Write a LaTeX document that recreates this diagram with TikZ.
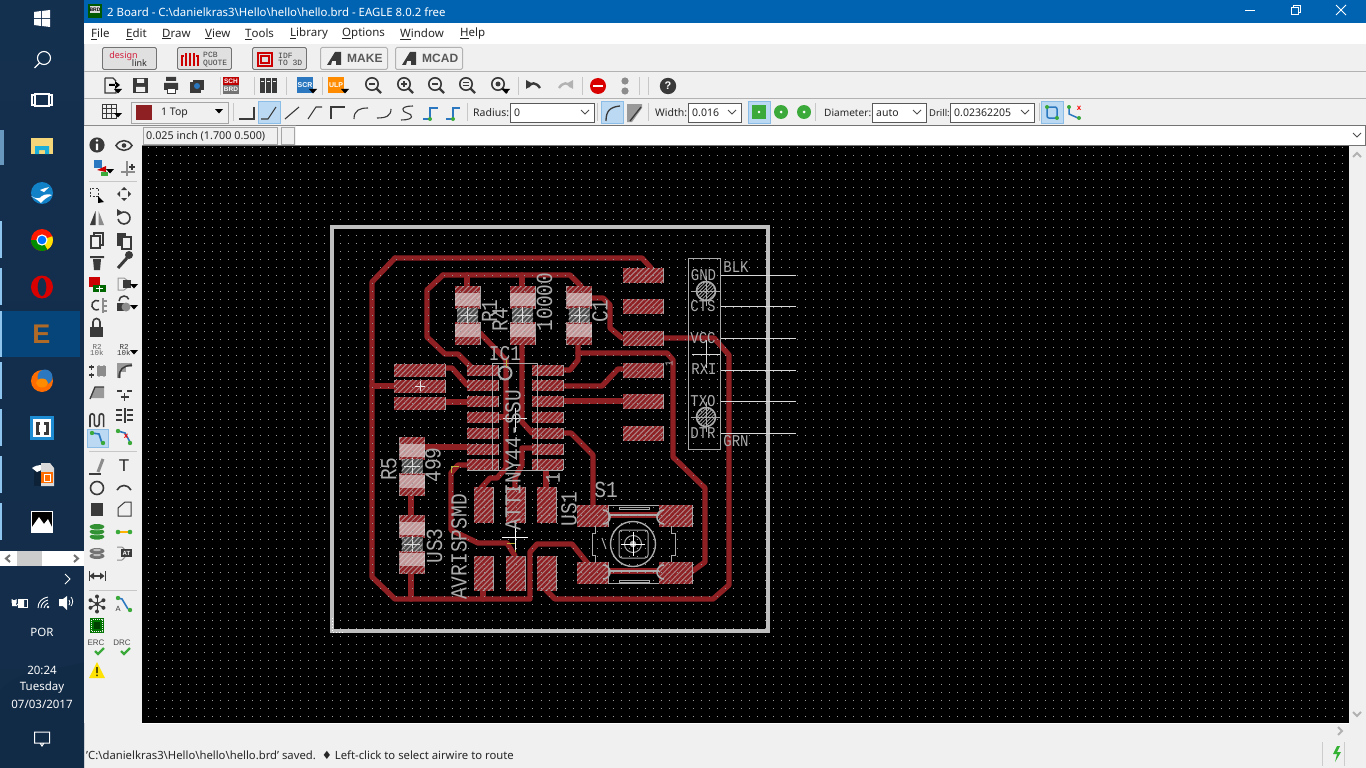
\documentclass[tikz,border=0pt]{standalone}
\usepackage{fontspec}
\setmainfont{Noto Sans}
\newfontfamily\vecf[FakeStretch=0.85]{Liberation Mono}
\newfontfamily\tinyf{Liberation Mono}
\newfontfamily\boldf{Liberation Sans}
\newfontfamily\djv{DejaVu Sans}
\usetikzlibrary{patterns.meta,shadings}
\definecolor{trc}{HTML}{8E2024}
\definecolor{padbg}{HTML}{AD8585}
\definecolor{hatchc}{HTML}{8E2024}
\definecolor{silk}{HTML}{ABABAB}
\definecolor{barbg}{HTML}{F0F0F0}
\definecolor{tb}{HTML}{14304F}
\definecolor{ico}{HTML}{3A3A3A}
\definecolor{selb}{HTML}{BBD9F2}
\definecolor{selbd}{HTML}{8CBDE6}
\definecolor{grn}{HTML}{3BAA3B}
\definecolor{wireb}{HTML}{2B78C0}
\definecolor{winblue}{HTML}{0063B1}
\definecolor{tile}{HTML}{05457A}
\definecolor{ooblue}{HTML}{1282C8}
\definecolor{brblue}{HTML}{1E8CD2}
\definecolor{dsred}{HTML}{D21E3C}
\definecolor{indic}{HTML}{8EC5EE}
\definecolor{folder}{HTML}{F5D77A}
\definecolor{eagle}{HTML}{B06A28}
\tikzset{
 wire/.style={draw=trc,line width=5.4pt,line join=round,line cap=round},
 padst/.style={draw=silk,line width=1pt,fill=padbg,postaction={pattern={Lines[angle=45,distance=3.7pt,line width=2.4pt]},pattern color=hatchc}},
 silkl/.style={draw=silk,line width=1pt},
 vec/.style={font=\vecf\fontsize{23}{26}\selectfont,text=silk,inner sep=0pt},
 vecm/.style={font=\vecf\fontsize{21}{24}\selectfont,text=silk,inner sep=0pt},
 vecs/.style={font=\vecf\fontsize{16.5}{19}\selectfont,text=silk,inner sep=0pt},
 ui/.style={font=\fontsize{11.5}{14}\selectfont,text=black!85,inner sep=0pt,anchor=west},
 uis/.style={font=\fontsize{10.5}{13}\selectfont,text=black!85,inner sep=0pt,anchor=west},
 tray/.style={font=\fontsize{11.5}{14}\selectfont,text=white,inner sep=0pt},
 combo/.style={draw=black!65,fill=white,line width=.8pt},
 btn/.style={draw=black!55,fill=black!12,line width=.9pt,rounded corners=1.5pt},
 btnl/.style={draw=black!30,fill=barbg,line width=1pt,rounded corners=1.5pt},
 sep/.style={draw=black!22,line width=1pt},
 icl/.style={draw=ico,line width=1.4pt},
 sel/.style={fill=selb,draw=selbd,line width=.8pt},
 tiny/.style={font=\boldf\bfseries\fontsize{7}{8}\selectfont,inner sep=0pt},
}
\newcommand{\pad}[4]{\path[padst] (#1,#2) rectangle (#3,#4);}
\newcommand{\chev}[2]{\draw[black!70,line width=1pt] (#1-4,#2-2) -- (#1,#2+2) -- (#1+4,#2-2);}
\newcommand{\dtri}[2]{\fill[black] (#1-4,#2-2) -- (#1+4,#2-2) -- (#1,#2+2.5) -- cycle;}
% resistor-like part: cx, top
\newcommand{\rpart}[2]{%
 \pad{#1-12.5}{#2}{#1+12.5}{#2+22}
 \pad{#1-12.5}{#2+36}{#1+12.5}{#2+58}
 \fill[white!80!gray,opacity=.6] (#1-12.5,#2+7) rectangle (#1+12.5,#2+20);
 \fill[white!80!gray,opacity=.6] (#1-12.5,#2+38) rectangle (#1+12.5,#2+51);
 \path[fill=black!70,postaction={pattern={Lines[angle=45,distance=3.7pt,line width=1.2pt]},pattern color=silk}] (#1-10.5,#2+22) rectangle (#1+10.5,#2+36);
 \draw[black!12,line width=.7pt] (#1-8,#2+29) -- (#1+8,#2+29) (#1,#2+21) -- (#1,#2+37);
}
\begin{document}
\begin{tikzpicture}[x=1pt,y=-1pt]
\useasboundingbox (0,0) rectangle (1366,768);
% ---------- backgrounds
\fill[barbg] (0,0) rectangle (1366,768);
\shade[top color=tb,bottom color=tb!92!black] (0,0) rectangle (84,768);
\fill[black!18!tb,opacity=.35] (0,690) .. controls (20,668) and (50,672) .. (84,662) -- (84,768) -- (0,768) -- cycle;
\fill[black] (142,146) rectangle (1349,723);
\fill[white] (142,723) rectangle (1349,724);
% ---------- title bar + menu
\fill[winblue] (84,0) rectangle (1366,23);
\fill[white] (84,23) rectangle (1366,44);
\draw[black!30,line width=1pt] (84,72) -- (1366,72) (84,98.5) -- (1366,98.5);
\draw[black!45,line width=1pt] (84,125) -- (1366,125);
\fill[white] (296,126) rectangle (1366,145);
\draw[black!55,line width=1pt] (296,125.5) -- (1366,125.5) (142,145.5) -- (1366,145.5);
\draw[black!55,line width=1pt] (1365.5,126) -- (1365.5,145);
\fill[green!35!black] (88,4) rectangle (102,18);
\fill[black!15] (90,6) rectangle (100,13);
\node[font=\boldf\bfseries\fontsize{5}{6}\selectfont,text=black,inner sep=0pt] (brdico) at (95,9.5) {BRD};
\node[font=\fontsize{11.4}{14}\selectfont,text=white,inner sep=0pt,anchor=west] (title) at (107,12) {2 Board - C:\textbackslash danielkras3\textbackslash Hello\textbackslash hello\textbackslash hello.brd - EAGLE 8.0.2 free};
\draw[white,line width=1pt] (1245,10.5) -- (1255,10.5);
\draw[white,line width=1pt] (1291,8) rectangle (1298,15) (1293,8) -- (1293,5.5) -- (1300,5.5) -- (1300,12.5) -- (1298,12.5);
\draw[white,line width=1pt] (1336,5) -- (1346,15) (1346,5) -- (1336,15);
\node[ui] (mFile) at (91,34) {\underline{F}ile};
\node[ui] (mEdit) at (126,34) {\underline{E}dit};
\node[ui] (mDraw) at (162,34) {\underline{D}raw};
\node[ui] (mView) at (205,34) {\underline{V}iew};
\node[ui] (mTools) at (245,34) {\underline{T}ools};
\node[ui] (mLib) at (290,34) {\underline{L}ibrary};
\node[ui] (mOpt) at (342,34) {\underline{O}ptions};
\node[ui] (mWin) at (400,34) {\underline{W}indow};
\node[ui] (mHelp) at (460,34) {\underline{H}elp};
% ---------- button row
\path[btn] (102.5,47.5) rectangle (156.5,69.5);
\node[font=\fontsize{9}{10}\selectfont,text=dsred,inner sep=0pt] (bdesign) at (123.5,56) {design};
\node[font=\fontsize{9}{10}\selectfont,text=black!85,inner sep=0pt] (blink) at (139.5,63.5) {link};
\path[btn] (177.5,47.5) rectangle (231.5,69.5);
\draw[red!80!black,line width=1.2pt] (182,66) -- (182,56) -- (184,56) (186,66) -- (186,53) (190,66) -- (190,53) (194,66) -- (194,53) (198,66) -- (198,56) -- (196,56);
\node[font=\tinyf\fontsize{8}{8.5}\selectfont,text=black!75,align=left,inner sep=0pt,anchor=west] (bpcb) at (203,59.5) {PCB\\[-1pt]QUOTE};
\path[btn] (252.5,47.5) rectangle (306.5,69.5);
\draw[red!80!black,line width=1.4pt] (258,53) rectangle (272,66) (261,56) rectangle (269,63);
\node[font=\tinyf\fontsize{8}{8.5}\selectfont,text=black!75,align=left,inner sep=0pt,anchor=west] (bidf) at (278,59.5) {IDF\\[-1pt]TO 3D};
\path[btnl] (320.5,47.5) rectangle (387.5,69.5);
\fill[ico] (327,65) -- (335,52) -- (341,52) -- (341,65) -- (336,65) -- (336,61) -- (332,61) -- (331,65) -- cycle;
\node[font=\boldf\bfseries\fontsize{12}{14}\selectfont,text=black!65,inner sep=0pt,anchor=west] (bmake) at (347,58.5) {MAKE};
\path[btnl] (395.5,47.5) rectangle (462.5,69.5);
\fill[ico] (402,65) -- (410,52) -- (416,52) -- (416,65) -- (411,65) -- (411,61) -- (407,61) -- (406,65) -- cycle;
\node[font=\boldf\bfseries\fontsize{12}{14}\selectfont,text=black!65,inner sep=0pt,anchor=west] (bmcad) at (422,58.5) {MCAD};
% ---------- icon row
\draw[icl] (105,78) -- (113,78) -- (116,81) (105,78) -- (105,93) -- (116,93) -- (116,90);
\fill[black] (109,84) rectangle (116,86) (115,81) -- (120,85) -- (115,89) -- cycle; \dtri{118}{91}
\fill[ico] (133,78) rectangle (148,93); \fill[barbg] (137,79) rectangle (144,83) (136,87) rectangle (145,92);
\fill[ico] (166,77) rectangle (176,81) (164,83) rectangle (178,90); \path[fill=white,draw=ico] (167,88) rectangle (175,93);
\fill[ico] (190,82) rectangle (201,93); \fill[ico] (193,80) rectangle (204,90); \fill[wireb] (197,86) circle (3);
\fill[red!75!black] (223,77) rectangle (239,85); \fill[black!55] (223,85) rectangle (239,94);
\node[tiny,text=white,font=\boldf\bfseries\fontsize{6.5}{7}\selectfont] (isch) at (231,81) {SCH};
\node[tiny,text=white,font=\boldf\bfseries\fontsize{6.5}{7}\selectfont] (ibrd) at (231,89.5) {BRD};
\foreach \x in {260,266,272} {\fill[ico] (\x,78) rectangle (\x+4.5,93); \fill[barbg] (\x+1,81) rectangle (\x+3.5,82);}
\fill[wireb] (297,77) rectangle (313,93);
\node[tiny,text=white] (iscr) at (305,85) {SCR}; \dtri{313}{91}
\fill[orange!90!yellow] (328,77) rectangle (344,93);
\node[tiny,text=white] (iulp) at (336,85) {ULP}; \dtri{345}{91}
\foreach \x in {372,404,435,466,498} {
 \draw[ico,line width=1.6pt] (\x,84) circle (6.2);
 \draw[ico,line width=2.4pt] (\x+4.5,88.5) -- (\x+9,93);
}
\draw[ico,line width=1.2pt] (369,84) -- (375,84) (401,84) -- (407,84) (404,81) -- (404,87) (432,84) -- (438,84) (463,82.5) -- (469,82.5) (463,85.5) -- (469,85.5);
\fill[ico] (498,84) circle (2.5); \dtri{506}{91}
\draw[ico,line width=2.4pt] (528,87) .. controls (531,82) and (536,82) .. (540,88);
\fill[ico] (526,80) -- (533,84) -- (526,89) -- cycle;
\draw[black!30,line width=2.4pt] (571,87) .. controls (568,82) and (563,82) .. (559,88);
\fill[black!30] (573,80) -- (566,84) -- (573,89) -- cycle;
\fill[red!85!black] (598,86) circle (8); \fill[white] (593,84.8) rectangle (603,87.2);
\fill[black!45] (625,81) circle (3.6) (625,91) circle (3.6);
\fill[ico] (668,86) circle (8.2);
\node[font=\boldf\bfseries\fontsize{11}{12}\selectfont,text=white,inner sep=0pt] (ihelp) at (668,86) {?};
\foreach \x in {220,254,286,322,518,582,639,648} {\draw[sep] (\x.5,77) -- (\x.5,95);}
% ---------- parameter row
\draw[ico,line width=1pt] (102,104) rectangle (116,118) (102,108.7) -- (116,108.7) (102,113.3) -- (116,113.3) (106.7,104) -- (106.7,118) (111.3,104) -- (111.3,118);
\dtri{118}{115}
\path[draw=black!35,fill=black!6,line width=1pt] (131.5,102) rectangle (228.5,123);
\fill[trc] (136,105) rectangle (152,120);
\node[uis] (layer) at (161,113) {1 Top}; \dtri{219}{111}
\path[sel] (258,101) rectangle (280,123);
\draw[ico,line width=1.1pt] (239,119) -- (254,119) -- (254,107);
\draw[ico,line width=1.1pt] (261,119) -- (268,119) -- (276,107);
\draw[ico,line width=1.1pt] (285,119) -- (299,107);
\draw[ico,line width=1.1pt] (308,119) -- (316,107) -- (322,107);
\draw[ico,line width=1.1pt] (331,119) -- (331,107) -- (345,107);
\draw[ico,line width=1.1pt] (354,119) .. controls (354,110) and (360,108) .. (368,108);
\draw[ico,line width=1.1pt] (377,118) .. controls (386,118) and (391,116) .. (391,109);
\draw[ico,line width=1.1pt] (413,106) .. controls (399,106) and (402,112) .. (407,113) .. controls (413,114) and (415,120) .. (401,120);
\draw[wireb,line width=1.2pt] (423,119) -- (430,119) -- (430,108) -- (438,108);
\fill[grn] (430,119) circle (2);
\draw[wireb,line width=1.2pt] (446,119) -- (453,119) -- (453,108) -- (460,108);
\fill[grn] (453,119) circle (2);
\foreach \x in {233,467,597,648,748,815,1039} {\draw[sep] (\x.5,103) -- (\x.5,121);}
\node[uis] (lrad) at (473,113) {Radius:};
\path[combo] (510.5,103.5) rectangle (594.5,122.5);
\node[uis] (vrad) at (514,113) {0}; \chev{585}{112}
\path[sel] (601,101) rectangle (623,123);
\draw[ico,line width=1.3pt] (606,121) .. controls (606,111) and (610,107) .. (620,106);
\fill[black!40] (627,104) -- (642,104) -- (642,108) -- (632,122) -- (627,122) -- cycle;
\draw[ico,line width=1.3pt] (630,121) -- (641,107);
\node[uis] (lwid) at (655,113) {Width:};
\path[combo] (688.5,103.5) rectangle (741.5,122.5);
\node[uis] (vwid) at (692,113) {0.016}; \chev{732}{112}
\path[sel] (748,101) rectangle (770,123);
\fill[grn] (752,105) rectangle (766,119); \fill[white] (759,112) circle (1.3);
\fill[grn] (781,112) circle (7); \fill[white] (781,112) circle (1.5);
\fill[grn] (804,112) circle (7); \fill[white] (804,112) circle (1.5);
\node[uis,font=\fontsize{10.1}{13}\selectfont] (ldia) at (824,113) {Diameter:};
\path[combo] (872.5,103.5) rectangle (926.5,122.5);
\node[uis] (vdia) at (876,113) {auto}; \chev{917}{112}
\node[uis,font=\fontsize{9.4}{13}\selectfont] (ldri) at (929,113) {Drill:};
\path[combo] (950.5,103.5) rectangle (1034.5,122.5);
\node[uis] (vdri) at (954,113) {0.02362205}; \chev{1025}{112}
\path[sel] (1041,101) rectangle (1063,123);
\draw[wireb,line width=1.5pt,rounded corners=2pt] (1047,107) -- (1057,107) -- (1057,118) -- (1047,118) -- cycle;
\fill[grn] (1047,107) circle (2) (1057,118) circle (2);
\draw[wireb,line width=1.5pt] (1069,107) -- (1069,114) -- (1078,118);
\fill[grn] (1069,107) circle (2) (1079,118) circle (2);
\node[font=\boldf\bfseries\fontsize{8}{8}\selectfont,text=red,inner sep=0pt] (ixr) at (1079,108) {x};
% ---------- command line
\path[draw=black!35,fill=barbg,line width=1pt] (143.5,127.5) rectangle (277.5,144.5);
\node[uis,font=\fontsize{10.8}{13}\selectfont] (coord) at (146,136) {0.025 inch (1.700 0.500)};
\path[draw=black!35,fill=barbg,line width=1pt] (281.5,127.5) rectangle (294.5,144.5);
\chev{1357}{135}
\draw[black!30,line width=2pt] (1353,157) -- (1357,153) -- (1361,157);
\draw[black!30,line width=2pt] (1353,712) -- (1357,716) -- (1361,712);
\draw[black!30,line width=2pt] (1338,727) -- (1342,731) -- (1338,735);
% ---------- traces
\draw[wire] (395,258) -- (642,258) -- (651,268);
\draw[wire] (395,258) -- (372,282) -- (372,577) -- (395,599) -- (530,599) -- (530,552) -- (537,544) -- (572,544) -- (589,565);
\draw[wire] (372,386) -- (395,386);
\draw[wire] (443,275) -- (570,275) -- (581,286);
\draw[wire] (443,275) -- (427,290) -- (427,337) -- (445,354) -- (458,354) -- (472,368);
\draw[wire] (467,275) -- (467,288) (522,275) -- (522,288);
\draw[wire] (480,333) -- (506,360) -- (506,468) -- (497,478) -- (490,478) -- (481,488);
\draw[wire] (522,343) -- (522,422) -- (532,433);
\draw[wire] (498,417) -- (506,417);
\draw[wire] (563,433) -- (571,433) -- (593,455) -- (593,510);
\draw[wire] (578,343) -- (578,360) -- (570,370) -- (563,370);
\draw[wire] (578,353) -- (667,353) -- (673,360) -- (673,457) -- (705,488) -- (705,562) -- (690,573);
\draw[wire] (563,386) -- (602,386) -- (618,369) -- (625,369);
\draw[wire] (563,401) -- (625,401);
\draw[wire] (663,338) -- (714,338) -- (729,355) -- (729,585) -- (713,599) -- (555,599) -- (546,590);
\draw[wire] (592,298) -- (603,298) -- (610,305) -- (610,328) -- (622,338);
\draw[wire] (445,368) -- (452,368) -- (467,385);
\draw[wire] (445,402) -- (467,402);
\draw[wire] (424,447) -- (467,447);
\draw[wire] (411,494) -- (411,515) (411,573) -- (411,599);
\draw[wire] (467,465) -- (458,465) -- (451,473) -- (451,530) -- (478,543) -- (507,543) -- (515,556);
\draw[wire] (483,590) -- (483,599);
\draw[wire] (532,448) -- (522,448) -- (522,465) -- (515,478) -- (515,487);
\draw[wire] (546,470) -- (546,487);
\draw[wire] (608,515) -- (659,515) (608,571) -- (659,571);
\draw[silk,line width=1.6pt] (608,515) -- (659,515) (608,571) -- (659,571);
% ---------- pads
\foreach \y in {370,385.8,401.6,417.4,433.2,449,464.8} {\pad{467}{\y-5}{498}{\y+5}\pad{532}{\y-5}{563}{\y+5}}
\foreach \y in {370,386,403} {\pad{394}{\y-6}{445}{\y+6}}
\foreach \y in {275,306.5,338.5,370.5,401.5,433.5} {\pad{623}{\y-7}{663}{\y+7}}
\foreach \x in {474,506,537} {\pad{\x}{487}{\x+19}{522}\pad{\x}{556}{\x+19}{590}}
\pad{577}{505}{608}{526}\pad{659}{505}{692}{526}\pad{577}{562}{608}{583}\pad{659}{562}{692}{583}
\rpart{467.5}{286}\rpart{522.5}{286}\rpart{579}{286}\rpart{412}{437}\rpart{412}{515}
% ---------- canvas grid dots
\foreach \y in {0,...,71} {\draw[black!40,line width=1pt,dash pattern=on 1pt off 7.01pt] (140,\y*8.02+147) -- (1349,\y*8.02+147);}
\fill[barbg] (140,146) rectangle (142,723);
% ---------- board outline
\draw[black!25,line width=4pt] (332,227) rectangle (768,631);
\draw[white,line width=1pt,dotted] (332,618) -- (332,632) -- (344,632);
% ---------- silk: IC1
\draw[silkl] (492,363) rectangle (537,470) (467,470) -- (563,470);
\draw[silk,line width=2pt] (505,373) circle (6.5);
\draw[black!10,line width=.8pt] (503,418) -- (527,418) (515,408) -- (515,432);
\draw[black!10,line width=.8pt] (415,386) -- (425,386) (420,381) -- (420,391);
\draw[yellow!70!black,line width=1pt] (506,360) -- (506,367) (451,473) -- (451,466) -- (459,466) (507,543) -- (515,543) -- (515,552);
\draw[white,line width=.8pt] (502,537) -- (528,537) (515,525) -- (515,550);
% ---------- silk: header
\draw[silkl] (688.5,258.5) rectangle (720.5,449);
\foreach \y in {275,306,338,370,401,433} {\draw[black!15,line width=1pt] (721,\y) -- (796,\y);}
\foreach \y in {291,417} {
 \draw[silk,line width=1.6pt] (706,\y) circle (9.5);
 \path[pattern={Lines[angle=45,distance=2.5pt,line width=.8pt]},pattern color=silk] (706,\y) circle (9);
 \draw[silk,line width=.8pt] (691,\y) -- (721,\y) (706,\y-15) -- (706,\y+15);
}
\draw[black!15,line width=.8pt] (692,354) -- (720,354) (706,340) -- (706,368);
\node[vecs] (jgnd) at (703.5,275) {GND};
\node[vecs] (jcts) at (703,306.5) {CTS};
\node[vecs] (jvcc) at (703,338) {VCC};
\node[vecs] (jrxi) at (704,369.5) {RXI};
\node[vecs] (jtxo) at (703,401.5) {TXO};
\node[vecs] (jdtr) at (703,433.5) {DTR};
\node[vecs] (jblk) at (736,267) {BLK};
\node[vecs] (jgrn) at (736,441) {GRN};
% ---------- silk: S1
\draw[silkl] (608,505) -- (659,505) (608,583) -- (659,583);
\draw[silkl] (595,526) -- (595,533) -- (592,533) -- (592,555) -- (595,555) -- (595,562);
\draw[silkl] (671,526) -- (671,533) -- (675,533) -- (675,555) -- (671,555) -- (671,562);
\draw[silkl] (619,507) rectangle (649,509) (619,580) rectangle (649,582);
\draw[silkl] (602,538) -- (606,549);
\draw[silk,line width=1.4pt] (633,544) circle (22.5);
\draw[silkl,rounded corners=3pt] (619,530) rectangle (648,558);
\draw[silkl] (633,544) circle (8.5);
\fill[silk] (633,544) circle (3.3);
\draw[white,line width=.7pt] (621,544) -- (645,544) (633,532) -- (633,556);
\foreach \y in {517,572} {
 \draw[silk,line width=1.6pt] (603,\y-7) arc (-90:90:7);
 \draw[silk,line width=1.6pt] (664,\y-7) arc (270:90:7);
}
% ---------- silk: labels
\node[vec,rotate=90] (tR1) at (489.5,311) {R1};
\node[vec,rotate=90] (tR4) at (500,319.5) {R4};
\node[vec,rotate=90] (t10000) at (544.5,302) {10000};
\node[vec,rotate=90] (tC1) at (600,311) {C1};
\node[vecm] (tIC1) at (505,354) {IC1};
\node[vec,rotate=90] (tATT) at (513,460) {ATTINY44-SSU};
\node[vec,rotate=90] (tR5) at (389,469) {R5};
\node[vec,rotate=90] (t499) at (433,465) {499};
\node[vec,rotate=90] (tUS3) at (434.5,546) {US3};
\node[vec,rotate=90] (tAVR) at (459,547) {AVRISPSMD};
\node[vec,rotate=90] (tUS1) at (569,509) {US1};
\node[vec] (tS1) at (606,490) {S1};
\node[vecm,rotate=90] (tone) at (553,478) {1};
\node[vecs,font=\vecf\fontsize{11}{12}\selectfont,rotate=90] (tone2) at (669,364) {1};
% ---------- left tool bar
\fill[barbg] (84,126) rectangle (142,723);
\draw[black!22,line width=1pt] (89,181.5) -- (137,181.5) (89,451.5) -- (137,451.5) (89,590.5) -- (137,590.5);
\fill[ico] (97,145) circle (7.6); \fill[white] (95.8,143.5) rectangle (98.2,150) (97,140.5) circle (1.3);
\draw[ico,line width=1.5pt] (116,145.5) .. controls (120,139) and (128,139) .. (132,145.5) .. controls (128,152) and (120,152) .. (116,145.5) -- cycle;
\fill[ico] (124,145.5) circle (2.3);
\fill[wireb] (94,160) rectangle (102,168); \fill[red!80!black] (97,170) -- (106,166) -- (106,172) -- cycle;
\fill[grn] (101,172) rectangle (108,176); \dtri{110}{171}
\draw[black!45,line width=1.3pt] (121,172) -- (135,172) (127,161) -- (127,176);
\draw[ico,line width=1.1pt] (129,167) -- (135,167) (132,164) -- (132,170);
% col rows
\draw[ico,line width=1pt,dash pattern=on 2pt off 1.5pt] (90,188) rectangle (98,196);
\fill[black] (98,196) -- (104,202) -- (101,202.5) -- (98,203) -- cycle;
\fill[ico] (124,187) -- (127,190) -- (121,190) -- cycle (124,201) -- (127,198) -- (121,198) -- cycle (117,194) -- (120,191) -- (120,197) -- cycle (131,194) -- (128,191) -- (128,197) -- cycle;
\fill[ico] (95.5,211) -- (95.5,225) -- (90,225) -- cycle; \fill[black!45] (98.5,211) -- (98.5,225) -- (104,225) -- cycle;
\draw[ico,line width=1.6pt] (121,212.8) arc (-120:170:6); \fill[ico] (117,209) -- (117,216) -- (123,212.8) -- cycle;
\path[draw=ico,line width=1.2pt,fill=barbg] (94,233) rectangle (103,245); \path[draw=ico,line width=1.2pt,fill=barbg] (91,236) rectangle (100,248);
\fill[ico] (117,233) rectangle (126,246); \path[draw=ico,line width=1.2pt,fill=barbg] (122,237) rectangle (131,249);
\fill[ico] (90,256) rectangle (104,258) (93,259) -- (101,259) -- (100,270) -- (94,270) -- cycle;
\draw[ico,line width=3pt] (118,268) -- (127,258); \fill[ico] (129,255) circle (4);
\fill[red!80!black] (89,277) rectangle (100,287); \fill[green!40!black] (93,285) rectangle (106,292);
\draw[white,line width=1.2pt] (96,288.5) -- (103,288.5) (99.5,285.5) -- (99.5,291.5);
\draw[black!40,line width=1pt] (118,278) -- (124,278) .. controls (130,280) and (130,288) .. (124,290) -- (118,290) -- cycle;
\fill[ico] (123,280) rectangle (131,288); \dtri{134}{286}
\draw[ico,line width=1.5pt] (99,301) arc (-60:-300:4.8); \draw[black!45,line width=1.3pt] (103,298) -- (103,313) (103,301) -- (107,301) (103,306) -- (107,306) (103,311) -- (107,311);
\fill[ico] (117,303) rectangle (124,311); \fill[black!45] (126,307) circle (4.5);
\draw[ico,line width=1.5pt] (119,301) arc (180:340:5); \dtri{134}{307}
\fill[ico] (90,327) rectangle (103,337); \draw[ico,line width=1.6pt] (93,327) -- (93,322) arc (180:360:3.5) -- (100,327);
\node[font=\tinyf\fontsize{7.5}{8}\selectfont,align=center,inner sep=0pt,text=black!60] (iR2a) at (97,350) {R2\\[-2pt]10k};
\node[font=\tinyf\fontsize{7.5}{8}\selectfont,align=center,inner sep=0pt,text=black!80] (iR2b) at (124,350) {R2\\[-2pt]10k}; \dtri{134}{352}
\draw[black!30,line width=1.2pt] (99,365) -- (99,377) (104,365) -- (104,377); \fill[black!45] (97,366) rectangle (106,376);
\draw[ico,line width=1.2pt] (89,367) -- (94,367) (91.5,364.5) -- (91.5,369.5) (89,375) -- (94,375) (91.5,372.5) -- (91.5,377.5);
\fill[black!40] (117,363) rectangle (132,378); \draw[ico,line width=1.5pt] (119,378) .. controls (119,369) and (123,366) .. (132,365);\fill[barbg] (121,372) rectangle (132,378) (126,367) rectangle (132,372);
\fill[black!40] (90,398) -- (95,387) -- (104,387) -- (104,398) -- cycle; \draw[ico,line width=1.3pt] (90,399) -- (95,387) -- (104,387);
\draw[ico,line width=1.1pt] (117,391) -- (122,391) (127,391) -- (132,391) (124.5,393) -- (124.5,401) (120.5,397) -- (128.5,397);
\draw[ico,line width=1.6pt] (90,427) -- (90,416) arc (180:360:2.2) -- (94.4,424) arc (180:0:2.4) -- (99.2,416) arc (180:360:2.2) -- (103.6,427);
\draw[ico,line width=1.1pt] (116,410) -- (122,410) (116,415) -- (122,415) (116,420) -- (122,420) (125,408) -- (125,423) (127,410) -- (133,410) (127,415) -- (133,415) (127,420) -- (133,420);
\path[sel] (87,429) rectangle (108,447);
\draw[wireb,line width=1.6pt] (92,433) -- (99,434) -- (102,443); \fill[grn] (92,433) circle (2.2) (103,443) circle (2.2);
\draw[wireb,line width=1.6pt] (118,431) -- (125,433) -- (130,442); \fill[grn] (118,431) circle (2.2) (130,443) circle (2.2);
\node[font=\boldf\bfseries\fontsize{8}{8}\selectfont,text=red,inner sep=0pt] (ix2) at (126,436) {x};
\draw[ico,line width=1.4pt] (89,474) -- (101,474); \draw[black!45,line width=3pt] (98,472) -- (103,459);
\node[font=\boldf\fontsize{17}{18}\selectfont,text=black!85,inner sep=0pt] (iT) at (124,466) {T};
\draw[ico,line width=1.6pt] (97,488) circle (6.5);
\draw[ico,line width=1.6pt] (117,490) .. controls (120,484) and (128,484) .. (131,490);
\fill[ico] (91,503) rectangle (103,516);
\draw[ico,line width=1pt] (118,516) -- (118,508) -- (125,502) -- (131,502) -- (131,516) -- cycle;
\foreach \d in {10,5,0} {\fill[grn!85!black] (97,\d+527) ellipse (7.5 and 3);\draw[white,line width=.5pt] (89.5,\d+527) arc (180:0:7.5 and 3);}
\draw[grn,line width=1pt] (116,532) -- (132,532); \draw[orange!60!yellow,line width=2pt] (119,532) -- (129,532); \fill[grn] (118,532) circle (2.3) (130,532) circle (2.3);
\foreach \d in {5,0} {\fill[black!55] (97,\d+551) ellipse (7.5 and 3);\fill[black!25] (97,\d+550) ellipse (4 and 1.2);}
\draw[black!45,line width=1pt] (117,547) -- (122,547) .. controls (127,549) and (127,558) .. (122,560) -- (117,560);
\fill[ico] (121,549) rectangle (132,557);
\node[font=\boldf\bfseries\fontsize{6}{6}\selectfont,text=white,inner sep=0pt] (iAT) at (126.5,553) {AT};
\draw[ico,line width=1.6pt] (91,576) -- (103,576); \fill[ico] (94,572.5) -- (89.5,576) -- (94,579.5) -- cycle (100,572.5) -- (104.5,576) -- (100,579.5) -- cycle;
\draw[ico,line width=1pt] (89,571) -- (89,581) (105,571) -- (105,581);
\foreach \a in {30,90,150,210,270,330} {\draw[ico,line width=1pt] (97,604) -- ++(\a:7.5); \fill[ico] (97,604) ++(\a:7.5) circle (2);}
\fill[ico] (97,604) circle (2.2);
\draw[wireb,line width=1.6pt] (118,598) -- (122,599) -- (128,609); \fill[grn] (118,598) circle (2.2) (130,610) circle (2.2);
\node[font=\boldf\fontsize{7.5}{8}\selectfont,text=black!80,inner sep=0pt] (iA) at (118,609) {A};
\fill[green!45!black] (90,618) rectangle (104,633); \draw[barbg,line width=.7pt,dash pattern=on 1pt off 1pt] (91.5,619.5) rectangle (102.5,631.5); \fill[green!25!black] (94,622) rectangle (100,629);
\node[font=\boldf\fontsize{8}{8}\selectfont,text=black!70,inner sep=0pt] (iERC) at (96,643) {ERC};
\node[font=\boldf\fontsize{8}{8}\selectfont,text=black!70,inner sep=0pt] (iDRC) at (122,643) {DRC};
\draw[grn,line width=2.2pt] (95,651) -- (98,654) -- (104,648);
\draw[grn,line width=2.2pt] (121,651) -- (124,654) -- (130,648);
\fill[yellow!85!orange] (97,662) -- (105,678) -- (89,678) -- cycle;
\fill[black] (96.3,667) rectangle (97.7,673) (96.3,674.5) rectangle (97.7,676);
% ---------- status bar
\node[uis,font=\fontsize{11.3}{13}\selectfont] (status) at (86,755) {'C:\textbackslash danielkras3\textbackslash Hello\textbackslash hello\textbackslash hello.brd' saved.\ \ {\djv\char"2666}\ Left-click to select airwire to route};
\draw[black!20,line width=1pt] (1322.5,742) -- (1322.5,766) (1344.5,742) -- (1344.5,766);
\fill[green!55!gray!90!black] (1337,746) -- (1333,754) -- (1337,754) -- (1335,762) -- (1341,752) -- (1337,752) -- (1340,746) -- cycle;
% ---------- taskbar
\fill[tile] (0,311) rectangle (80,357);
\foreach \y in {221,268,362,409,456,503} {\fill[indic] (0,\y) rectangle (2,\y+37);}
\fill[indic,opacity=.7] (0,130) rectangle (4,165);
\fill[indic] (0,311) rectangle (2,357);
\fill[white] (34,12) -- (41,11) -- (41,18) -- (34,18) -- cycle (42,11) -- (50,10) -- (50,18) -- (42,18) -- cycle (34,19) -- (41,19) -- (41,26) -- (34,25) -- cycle (42,19) -- (50,19) -- (50,27) -- (42,26) -- cycle;
\draw[white,line width=1.1pt] (44,58) circle (6.5) (39.5,63) -- (34.5,68);
\draw[white,line width=1.1pt] (35,94) rectangle (49,106) (34,95) -- (32,95) -- (32,105) -- (34,105) (50,95) -- (52,95) -- (52,105) -- (50,105);
% folder
\fill[folder] (31,138) rectangle (53,154); \fill[wireb!60!cyan] (35,146) rectangle (49,150) (35,146) rectangle (39,154) (45,146) rectangle (49,154);
% open office
\fill[ooblue] (42,193) circle (11);
\fill[white] (31,196) .. controls (36,199) and (40,199) .. (42,196) .. controls (45,194) and (49,194) .. (52,195) .. controls (48,197) and (44,199) .. (41,203) .. controls (38,200) and (34,198) .. (31,196) -- cycle;
\fill[white] (40,190) .. controls (43,188) and (47,188) .. (49,187) .. controls (47,190) and (44,191) .. (44,192) -- cycle;
% chrome
\fill[red!80!orange] (42,240) circle (11);
\fill[green!55!black] (42,240) -- +(60:11) arc (60:180:11) -- cycle;
\fill[yellow!85!orange] (42,240) -- +(-20:11) arc (-20:60:11) -- cycle;
\fill[white] (42,240) circle (5.6); \fill[blue!55!cyan] (42,240) circle (4.3);
% opera
\fill[red!85!black] (42,287) ellipse (11 and 11.5); \fill[tb] (42,287) ellipse (4.3 and 9);
% E
\node[font=\boldf\bfseries\fontsize{27}{28}\selectfont,text=eagle,inner sep=0pt] (iE) at (41.5,334) {E};
% firefox
\fill[orange!85!red] (42,381) circle (11); \fill[wireb] (45,377) circle (7.5); \fill[orange!90!yellow] (42,383) ellipse (6 and 4.5);
% brackets
\fill[brblue] (30,416) rectangle (54,440); \fill[white] (33,419) rectangle (51,437); \draw[ico,line width=3pt] (40,423) -- (37,423) -- (37,433) -- (40,433) (44,423) -- (47,423) -- (47,433) -- (44,433);
% impress
\fill[black!30!tb] (34,468) rectangle (44,486);
\fill[white] (32,468) .. controls (38,464) and (44,464) .. (46,468) -- (37,472) -- cycle;
\fill[black!15] (41,463) -- (50,463) -- (54,468) -- (54,486) -- (41,486) -- cycle;
\fill[orange!85!red] (41,472) rectangle (53,483); \draw[white,line width=.8pt] (44,474) rectangle (50,481);
% photos
\fill[white] (31,511) rectangle (53,533); \fill[black] (32,512) rectangle (52,527); \fill[white] (32,527) -- (39,517) -- (44,524) -- (48,519) -- (52,527) -- (52,532) -- (32,532) -- cycle;
% tray
\fill[white] (0,551) rectangle (84,566);
\fill[black!20] (17,551) rectangle (42,566);
\draw[black!55,line width=2pt] (10,555) -- (6,558.5) -- (10,562) (74,555) -- (78,558.5) -- (74,562);
\draw[white,line width=1pt] (65,574) -- (70,579) -- (65,584);
\draw[white,line width=1pt] (18,599) rectangle (27,607) (27,601.5) -- (27,604.5);
\fill[white] (18,599) rectangle (24,607) (12,600) rectangle (16,606);
\draw[white,line width=1pt] (12,599) -- (12,603) (16,599) -- (16,603) (16,606) -- (18,604);
\draw[white,line width=.9pt] (38,608) .. controls (38,602) and (42,598) .. (48,597) (41,608) .. controls (41,604) and (44,601) .. (48,600) (44,608) .. controls (44,606) and (46,604) .. (48,603);
\fill[white] (48,607) circle (1.3);
\fill[white] (59,599) rectangle (63,606) (63,599) -- (67,596) -- (67,610) -- (63,606) -- cycle;
\draw[white,line width=.8pt] (69,600) arc (-40:40:4) (71,597) arc (-40:40:7);
\node[tray] (tPOR) at (42,632) {POR};
\node[tray] (tTime) at (42,670) {20:24};
\node[tray] (tDay) at (42,688) {Tuesday};
\node[tray] (tDate) at (42,704) {07/03/2017};
\draw[white,line width=1pt] (34.5,732) rectangle (49.5,743) (40,743) -- (42,746) -- (44,743);
\end{tikzpicture}
\end{document}
